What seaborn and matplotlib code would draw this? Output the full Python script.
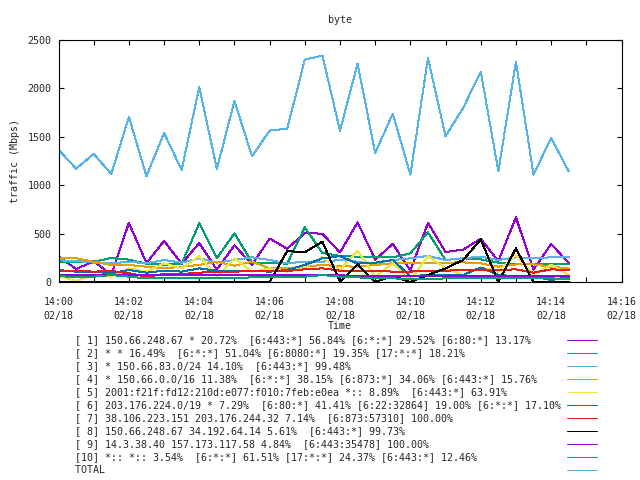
import matplotlib
matplotlib.use("Agg")
import matplotlib.pyplot as plt
import matplotlib.dates as mdates
from matplotlib.lines import Line2D
import pandas as pd
import seaborn as sns

# ---------------- data ----------------
times = ["14:00:00", "14:00:30", "14:01:00", "14:01:30", "14:02:00", "14:02:30",
         "14:03:00", "14:03:30", "14:04:00", "14:04:30", "14:05:00", "14:05:30",
         "14:06:00", "14:06:30", "14:07:00", "14:07:30", "14:08:00", "14:08:30",
         "14:09:00", "14:09:30", "14:10:00", "14:10:30", "14:11:00", "14:11:30",
         "14:12:00", "14:12:30", "14:13:00", "14:13:30", "14:14:00", "14:14:30"]
date = "2014-02-18"

s1 = [265, 134, 214, 76, 610, 196, 424, 189, 403, 127, 379, 179, 448, 344, 506,
      499, 305, 616, 231, 393, 117, 610, 310, 334, 448, 214, 668, 127, 393, 196]
s2 = [203, 205, 210, 248, 231, 189, 179, 189, 606, 245, 503, 200, 195, 190, 565,
      300, 270, 262, 262, 255, 296, 513, 227, 245, 234, 200, 185, 182, 182, 182]
s3 = [224, 217, 200, 193, 210, 193, 227, 200, 245, 200, 227, 255, 227, 193, 210,
      210, 228, 210, 193, 227, 245, 269, 227, 245, 262, 227, 255, 245, 255, 255]
s4 = [248, 245, 210, 176, 176, 158, 141, 158, 176, 210, 169, 210, 141, 141, 158,
      176, 163, 158, 176, 193, 193, 200, 200, 203, 193, 158, 182, 182, 158, 141]
s5 = [62, 10, 72, 55, 141, 107, 193, 141, 269, 55, 245, 107, 141, 107, 158,
      255, 124, 324, 55, 193, 21, 269, 141, 72, 150, 107, 279, 83, 176, 72]
s6 = [124, 107, 107, 90, 124, 96, 117, 107, 141, 117, 117, 114, 107, 124, 176,
      245, 268, 190, 200, 228, 60, 72, 72, 72, 150, 72, 60, 55, 21, 48]
s7 = [114, 114, 107, 114, 90, 55, 83, 83, 96, 107, 107, 114, 114, 114, 131,
      141, 117, 117, 117, 107, 107, 117, 117, 124, 124, 124, 131, 96, 131, 124]
s8 = [0, 0, 0, 0, 0, 0, 0, 0, 0, 0, 0, 0, 0, 320, 307,
      417, 0, 183, 0, 62, 0, 72, 141, 227, 441, 0, 348, 0, 0, 0]
s9 = [69, 69, 69, 72, 72, 69, 69, 72, 72, 72, 72, 72, 72, 69, 72,
      72, 69, 62, 62, 62, 62, 65, 65, 62, 62, 62, 62, 62, 62, 62]
s10 = [62, 48, 55, 72, 55, 38, 38, 38, 38, 38, 41, 48, 48, 48, 55,
       72, 55, 48, 38, 38, 28, 28, 38, 45, 45, 38, 38, 45, 38, 28]
total = [1367, 1171, 1323, 1116, 1705, 1092, 1540, 1157, 2015, 1168, 1870, 1298,
         1564, 1584, 2297, 2339, 1564, 2256, 1333, 1739, 1109, 2314, 1505, 1798,
         2173, 1143, 2276, 1109, 1488, 1143]

labels = [
    "[ 1] 150.66.248.67 * 20.72%  [6:443:*] 56.84% [6:*:*] 29.52% [6:80:*] 13.17%",
    "[ 2] * * 16.49%  [6:*:*] 51.04% [6:8080:*] 19.35% [17:*:*] 18.21%",
    "[ 3] * 150.66.83.0/24 14.10%  [6:443:*] 99.48%",
    "[ 4] * 150.66.0.0/16 11.38%  [6:*:*] 38.15% [6:873:*] 34.06% [6:443:*] 15.76%",
    "[ 5] 2001:f21f:fd12:210d:e077:f010:7feb:e0ea *:: 8.89%  [6:443:*] 63.91%",
    "[ 6] 203.176.224.0/19 * 7.29%  [6:80:*] 41.41% [6:22:32864] 19.00% [6:*:*] 17.10%",
    "[ 7] 38.106.223.151 203.176.244.32 7.14%  [6:873:57310] 100.00%",
    "[ 8] 150.66.248.67 34.192.64.14 5.61%  [6:443:*] 99.73%",
    "[ 9] 14.3.38.40 157.173.117.58 4.84%  [6:443:35478] 100.00%",
    "[10] *:: *:: 3.54%  [6:*:*] 61.51% [17:*:*] 24.37% [6:443:*] 12.46%",
    "TOTAL",
]
series = [s1, s2, s3, s4, s5, s6, s7, s8, s9, s10, total]
colors = ["#9400d3", "#009e73", "#56b4e9", "#e69f00", "#f0e442", "#0072b2",
          "#e51e10", "#000000", "#9400d3", "#009e73", "#56b4e9"]

tick_times = ["14:00", "14:02", "14:04", "14:06", "14:08", "14:10", "14:12", "14:14", "14:16"]
tick_labels = [t + "\n02/18" for t in tick_times]
yticks = [0, 500, 1000, 1500, 2000, 2500]

# ---------------- frame ----------------
ts = pd.to_datetime([f"{date} {t}" for t in times])
rows = []
for k, vals in enumerate(series):
    for t, v in zip(ts, vals):
        rows.append({"time": t, "value": v, "series": labels[k]})
df = pd.DataFrame(rows)

sns.set_style("ticks")
plt.rcParams["font.family"] = ["DejaVu Sans Mono", "DejaVu Sans"]
FS = 7.2
LW = 0.72

fig = plt.figure(figsize=(6.4, 4.8), dpi=100)
ax = fig.add_axes([58.5 / 640, 198 / 480, 563 / 640, 242 / 480])

sns.lineplot(data=df, x="time", y="value", hue="series", hue_order=labels,
             palette=colors, legend=False, ax=ax, linewidth=LW,
             estimator=None, sort=False, antialiased=False)

xt = pd.to_datetime([f"{date} {t}" for t in tick_times])
ax.set_xlim(xt[0], xt[-1])
ax.set_ylim(0, 2500)
ax.set_xticks(xt)
ax.set_xticklabels(tick_labels, fontsize=FS, linespacing=1.45)
ax.xaxis.set_minor_locator(mdates.MinuteLocator(interval=1))
ax.set_yticks(yticks)
ax.set_yticklabels([str(v) for v in yticks], fontsize=FS)
ax.tick_params(axis="both", which="both", direction="in", top=True, right=True,
               width=0.8, color="black")
ax.tick_params(axis="both", which="major", length=3.5)
ax.tick_params(axis="both", which="minor", length=3.5)
ax.tick_params(axis="x", which="major", pad=11)
ax.tick_params(axis="y", which="major", pad=5)
for sp in ax.spines.values():
    sp.set_linewidth(0.8)
    sp.set_color("black")

ax.set_xlabel("Time", fontsize=FS)
ax.xaxis.set_label_coords(0.5, -0.162)
ax.set_ylabel("traffic (Mbps)", fontsize=FS)
ax.yaxis.set_label_coords(-0.068, 0.5)
fig.text(340 / 640, 1 - 20 / 480, "byte", fontsize=FS, ha="center", va="center")

# legend: text left-aligned, sample line on the right
width = max(len(l) for l in labels)
handles = [Line2D([], [], color=c, linewidth=LW, antialiased=False) for c in colors]
padded = [l.ljust(width) for l in labels]
fig.legend(handles, padded, loc="upper left",
           bbox_to_anchor=(75 / 640, 1 - 335 / 480), frameon=False,
           markerfirst=False, prop={"family": "DejaVu Sans Mono", "size": FS},
           borderpad=0, labelspacing=0.3, handlelength=3.0, handletextpad=0.6,
           borderaxespad=0)

fig.savefig("out.png", dpi=100)
